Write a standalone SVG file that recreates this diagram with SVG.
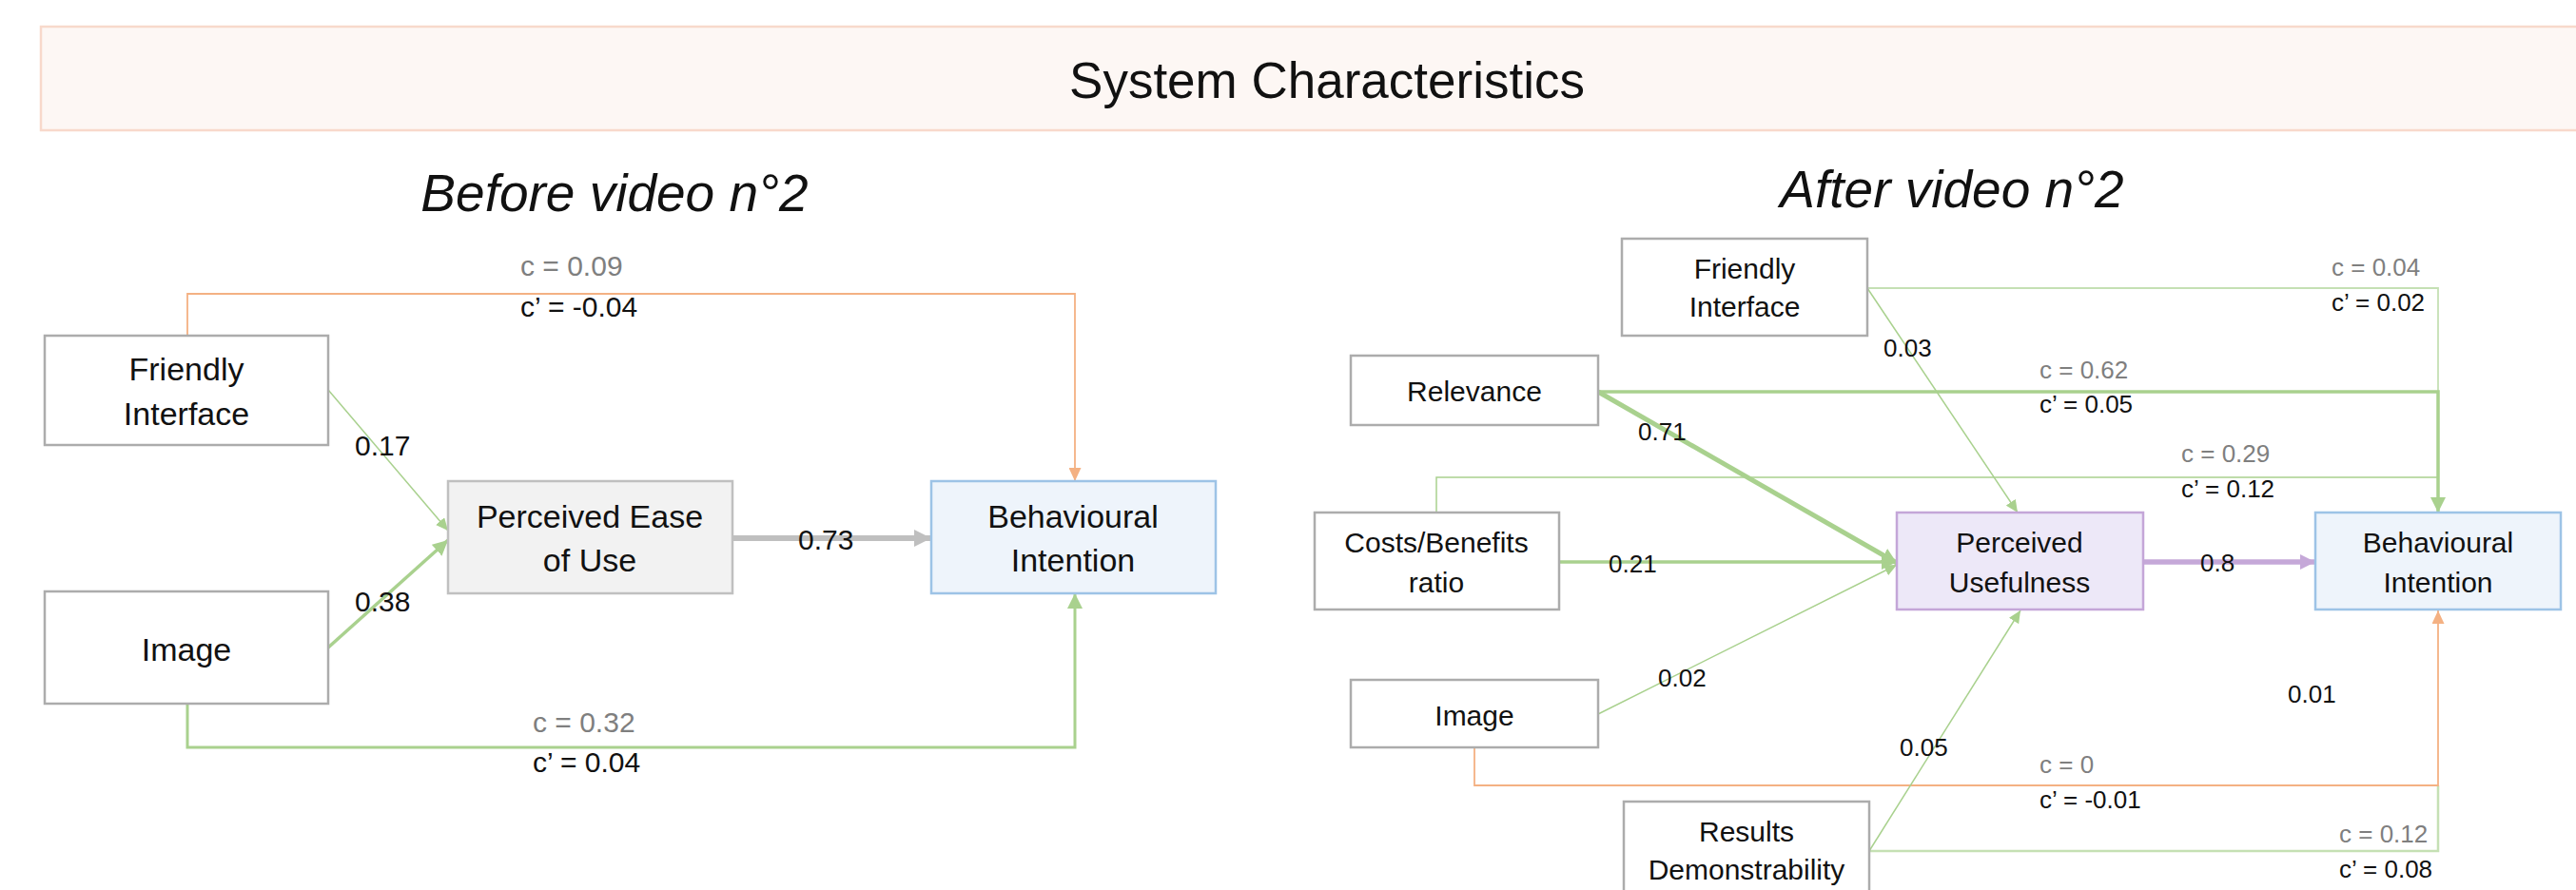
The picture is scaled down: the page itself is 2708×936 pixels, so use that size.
<svg xmlns="http://www.w3.org/2000/svg" width="2708" height="936" viewBox="0 0 2708 936">
<style>
text{font-family:"Liberation Sans",Arial,sans-serif;fill:#111}
.title{font-size:53px;text-anchor:middle}
.sub{font-size:55px;font-style:italic;text-anchor:middle}
.nl{font-size:34px;text-anchor:middle}
.nr{font-size:30px;text-anchor:middle}
.ll{font-size:30px}
.lr{font-size:26px}
.g{fill:#7f7f7f}
.box{fill:#fff;stroke:#acacac;stroke-width:2.5}
.peu{fill:#f2f2f2;stroke:#c0c0c0;stroke-width:2.5}
.bi{fill:#eef4fb;stroke:#9dc3e6;stroke-width:2.5}
.pu{fill:#ede8f8;stroke:#c4a6d8;stroke-width:2.5}
.c{fill:none}
.gt{stroke:#a9d18e;stroke-width:1.5}
.gm{stroke:#a9d18e;stroke-width:3.5}
.gk{stroke:#a9d18e;stroke-width:5}
.ot{stroke:#f4b183;stroke-width:1.8}
</style>
<defs>
<marker id="ags" markerUnits="userSpaceOnUse" markerWidth="13" markerHeight="12" refX="13" refY="6" orient="auto"><path d="M0,0 L13,6 L0,12 z" fill="#a9d18e"/></marker>
<marker id="agl" markerUnits="userSpaceOnUse" markerWidth="16" markerHeight="16" refX="16" refY="8" orient="auto"><path d="M0,0 L16,8 L0,16 z" fill="#a9d18e"/></marker>
<marker id="ao" markerUnits="userSpaceOnUse" markerWidth="14" markerHeight="13" refX="14" refY="6.5" orient="auto"><path d="M0,0 L14,6.5 L0,13 z" fill="#f4b183"/></marker>
<marker id="agr" markerUnits="userSpaceOnUse" markerWidth="18" markerHeight="18" refX="18" refY="9" orient="auto"><path d="M0,0 L18,9 L0,18 z" fill="#bfbfbf"/></marker>
<marker id="ap" markerUnits="userSpaceOnUse" markerWidth="16" markerHeight="16" refX="16" refY="8" orient="auto"><path d="M0,0 L16,8 L0,16 z" fill="#c5a8d8"/></marker>
</defs>
<rect width="2708" height="936" fill="#fff"/>
<g id="header">
<rect x="43" y="28" width="2700" height="109" fill="#fdf7f4" stroke="#f8d9cb" stroke-width="2.5"/>
<text class="title" x="1395" y="103">System Characteristics</text>
<text class="sub" x="646" y="222">Before video n°2</text>
<text class="sub" x="2052" y="218">After video n°2</text>
</g>
<g id="connectors">
<line class="c gt" x1="345" y1="410" x2="471" y2="558" marker-end="url(#ags)"/>
<line class="c gm" x1="345" y1="681" x2="471" y2="568" marker-end="url(#agl)"/>
<line class="c" stroke="#bfbfbf" stroke-width="6" x1="770" y1="566" x2="979" y2="566" marker-end="url(#agr)"/>
<path class="c ot" d="M197,353 V309 H1130 V506" marker-end="url(#ao)"/>
<path class="c" stroke="#a9d18e" stroke-width="3" d="M197,740 V786 H1130 V624" marker-end="url(#agl)"/>
<line class="c gt" x1="1963" y1="303" x2="2121" y2="539" marker-end="url(#ags)"/>
<path class="c" stroke="#c5e0b4" stroke-width="1.8" d="M1963,303 H2563 V412"/>
<path class="c gt" d="M1510,539 V502 H2563"/>
<path class="c gm" d="M1680,412 H2563 V539" marker-end="url(#agl)"/>
<line class="c gt" x1="1680" y1="751" x2="1994" y2="594" marker-end="url(#ags)"/>
<line class="c gm" x1="1639" y1="591" x2="1994" y2="591" marker-end="url(#agl)"/>
<line class="c gk" x1="1680" y1="412" x2="1994" y2="592" marker-end="url(#agl)"/>
<line class="c" stroke="#c5a8d8" stroke-width="5.5" x1="2253" y1="591" x2="2434" y2="591" marker-end="url(#ap)"/>
<path class="c" stroke="#c5e0b4" stroke-width="2.5" d="M1965,895 H2563 V826"/>
<path class="c ot" d="M1550,786 V826 H2563 V642" marker-end="url(#ao)"/>
<line class="c gt" x1="1965" y1="895" x2="2124" y2="642" marker-end="url(#ags)"/>
</g>
<g id="labels">
<text class="ll" x="373" y="479">0.17</text>
<text class="ll" x="373" y="643">0.38</text>
<text class="ll" x="839" y="578">0.73</text>
<text class="ll g" x="547" y="290">c = 0.09</text>
<text class="ll" x="547" y="333">c’ = -0.04</text>
<text class="ll g" x="560" y="770">c = 0.32</text>
<text class="ll" x="560" y="812">c’ = 0.04</text>
<text class="lr" x="1980" y="375">0.03</text>
<text class="lr g" x="2451" y="290">c = 0.04</text>
<text class="lr" x="2451" y="327">c’ = 0.02</text>
<text class="lr g" x="2144" y="398">c = 0.62</text>
<text class="lr" x="2144" y="434">c’ = 0.05</text>
<text class="lr" x="1722" y="463">0.71</text>
<text class="lr g" x="2293" y="486">c = 0.29</text>
<text class="lr" x="2293" y="523">c’ = 0.12</text>
<text class="lr" x="1691" y="602">0.21</text>
<text class="lr" x="2313" y="601">0.8</text>
<text class="lr" x="1743" y="722">0.02</text>
<text class="lr" x="1997" y="795">0.05</text>
<text class="lr" x="2405" y="739">0.01</text>
<text class="lr g" x="2144" y="813">c = 0</text>
<text class="lr" x="2144" y="850">c’ = -0.01</text>
<text class="lr g" x="2459" y="886">c = 0.12</text>
<text class="lr" x="2459" y="923">c’ = 0.08</text>
</g>
<g id="l-friendly">
<rect class="box" x="47" y="353" width="298" height="115"/>
<text class="nl" x="196" y="400">Friendly</text>
<text class="nl" x="196" y="447">Interface</text>
</g>
<g id="l-image">
<rect class="box" x="47" y="622" width="298" height="118"/>
<text class="nl" x="196" y="695">Image</text>
</g>
<g id="l-peu">
<rect class="peu" x="471" y="506" width="299" height="118"/>
<text class="nl" x="620" y="555">Perceived Ease</text>
<text class="nl" x="620" y="601">of Use</text>
</g>
<g id="l-bi">
<rect class="bi" x="979" y="506" width="299" height="118"/>
<text class="nl" x="1128" y="555">Behavioural</text>
<text class="nl" x="1128" y="601">Intention</text>
</g>
<g id="r-friendly">
<rect class="box" x="1705" y="251" width="258" height="102"/>
<text class="nr" x="1834" y="293">Friendly</text>
<text class="nr" x="1834" y="333">Interface</text>
</g>
<g id="r-relevance">
<rect class="box" x="1420" y="374" width="260" height="73"/>
<text class="nr" x="1550" y="422">Relevance</text>
</g>
<g id="r-costs">
<rect class="box" x="1382" y="539" width="257" height="102"/>
<text class="nr" x="1510" y="581">Costs/Benefits</text>
<text class="nr" x="1510" y="623">ratio</text>
</g>
<g id="r-image">
<rect class="box" x="1420" y="715" width="260" height="71"/>
<text class="nr" x="1550" y="763">Image</text>
</g>
<g id="r-results">
<rect class="box" x="1707" y="843" width="258" height="110"/>
<text class="nr" x="1836" y="885">Results</text>
<text class="nr" x="1836" y="925">Demonstrability</text>
</g>
<g id="r-pu">
<rect class="pu" x="1994" y="539" width="259" height="102"/>
<text class="nr" x="2123" y="581">Perceived</text>
<text class="nr" x="2123" y="623">Usefulness</text>
</g>
<g id="r-bi">
<rect class="bi" x="2434" y="539" width="258" height="102"/>
<text class="nr" x="2563" y="581">Behavioural</text>
<text class="nr" x="2563" y="623">Intention</text>
</g>
</svg>
